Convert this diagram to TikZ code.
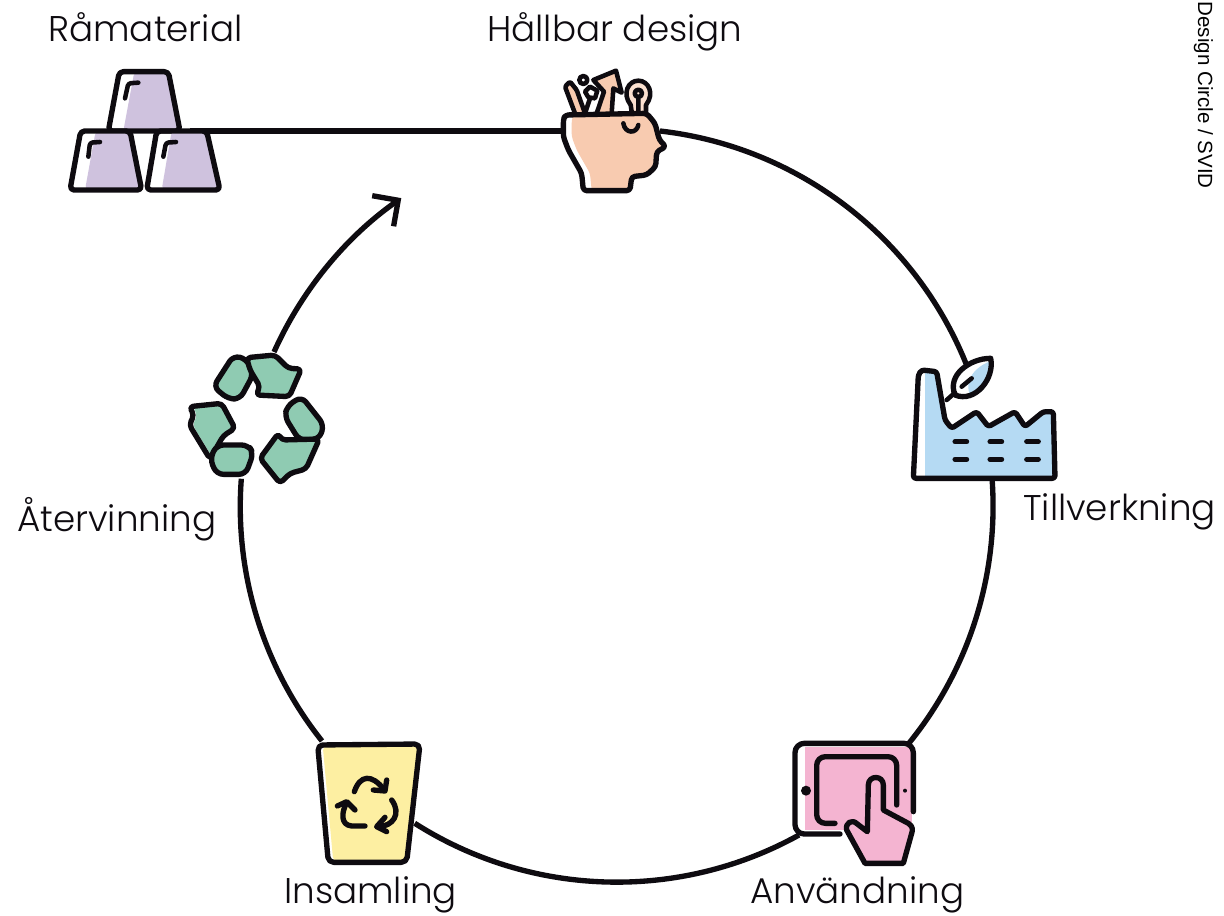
\documentclass[tikz,border=0pt]{standalone}
\usepackage{fontspec}
\setmainfont{Poppins}[UprightFont=* Light]
\newfontfamily\svidfont{Liberation Sans}
\usetikzlibrary{arrows.meta}
\definecolor{cupc}{HTML}{CFC2DE}
\definecolor{headc}{HTML}{F8CBB0}
\definecolor{factc}{HTML}{B5DAF3}
\definecolor{tabc}{HTML}{F4B4D1}
\definecolor{binc}{HTML}{FDEFA2}
\definecolor{recc}{HTML}{8FCBB2}
\definecolor{ink}{HTML}{0E0B10}
\newcommand{\shapefill}[3]{% path, colour, shift in zoomed px
  \begin{scope}\clip #1;\begin{scope}[xshift=#3*.25pt]\fill[#2] #1;\end{scope}\end{scope}
  \draw[icon] #1;}
\tikzset{
  ring/.style={draw=ink,line width=4pt},
  icon/.style={draw=ink,line width=4pt,line join=round,line cap=round},
  thin icon/.style={icon,line width=3.4pt},
  label/.style={font=\fontsize{26.8}{30}\selectfont,text=ink,inner sep=0pt},
  zoomed/.style={x=.25pt,y=-.25pt}
}
\begin{document}
\begin{tikzpicture}[x=.75pt,y=-.75pt]
\useasboundingbox (0,0) rectangle (1224,916);
\fill[white] (0,0) rectangle (1224,916);
% connector ends
\coordinate (raw) at (190,131);
\coordinate (headL) at (565,131);
\coordinate (headR) at (660,131);
\coordinate (factB) at (992,478);
\coordinate (tabB) at (799,835);
\coordinate (binT) at (322,741);
\coordinate (recT) at (274,352);
\draw[ring] (raw) -- (headL);
\draw[ring] (headR) arc[start angle=83.5,end angle=22,radius=282pt];
\draw[ring] (factB) arc[start angle=4.3,end angle=-39.4,radius=282pt];
\draw[ring] (tabB) arc[start angle=-61,end angle=-122.5,radius=282pt];
\draw[ring] (binT) arc[start angle=-141.5,end angle=-184.3,radius=282pt];
\draw[ring,-{Straight Barb[length=14pt,width=28pt]}] (recT) arc[start angle=155.8,end angle=125,radius=282pt];
% Cups
\begin{scope}[shift={(40,50)},zoomed]
\shapefill{[rounded corners=3pt] (238,65) -- (385,65) -- (420,243) -- (205,243) -- cycle}{cupc}{45}
\shapefill{[rounded corners=3pt] (122,243) -- (270,243) -- (305,420) -- (90,420) -- cycle}{cupc}{45}
\shapefill{[rounded corners=3pt] (350,243) -- (500,243) -- (540,420) -- (320,420) -- cycle}{cupc}{45}
\draw[thin icon,rounded corners=2pt] (255,145) -- (265,100) -- (295,98);
\draw[thin icon,rounded corners=2pt] (145,320) -- (150,278) -- (180,276);
\draw[thin icon,rounded corners=2pt] (370,320) -- (378,278) -- (408,276);
\end{scope}
% Head
\begin{scope}[shift={(540,60)},zoomed]
\draw[thin icon,fill=headc,rounded corners=1pt] (105,160) -- (75,80) -- (90,65) -- (110,90) -- (135,160);
\draw[thin icon] (130,60) circle[radius=12];
\draw[thin icon,fill=white] (150,80) -- (172,92) -- (165,115) -- (145,112) -- (135,95) -- cycle;
\draw[thin icon] (150,115) -- (135,160);
\draw[thin icon,fill=headc] (170,160) -- (192,95) -- (160,60) -- (228,32) -- (245,98) -- (220,85) -- (215,160);
\draw[thin icon,fill=headc!60] (275,155) -- (272,135) .. controls (245,100) and (265,62) .. (295,62) .. controls (325,62) and (345,100) .. (318,135) -- (318,155);
\draw[thin icon] (295,100) circle[radius=11] (295,112) -- (295,155);
\shapefill{[rounded corners=2.5pt] (75,165) -- (320,160) -- (345,190) -- (358,240) -- (378,260) -- (350,275) -- (347,320) -- (320,345) -- (275,350) -- (270,392) -- (130,392) -- (125,340) -- (85,270) -- (70,230) -- (70,180) -- cycle}{headc}{25}
\draw[thin icon] (250,190) .. controls (255,222) and (290,222) .. (295,195);
\end{scope}
% Factory
\begin{scope}[shift={(900,350)},zoomed]
\def\factshape{[rounded corners=2pt] (40,385) -- (465,385) -- (460,185) -- (430,185) -- (375,230) -- (345,185) -- (265,230) -- (230,185) -- (155,235) -- (135,210) -- (110,65) -- (65,60) -- (55,75) -- cycle}
\begin{scope}\clip \factshape;\fill[factc] (75,0) rectangle (480,400);\end{scope}
\draw[icon] \factshape;
\draw[thin icon] (140,150) -- (165,128);
\shapefill{(165,135) .. controls (140,75) and (210,25) .. (272,25) .. controls (285,85) and (225,160) .. (165,135) -- cycle}{factc}{45}
\draw[thin icon] (185,110) -- (215,85);
\foreach \yy in {275,328} \foreach \xx in {165,270,380} \draw[thin icon,line width=3.8pt] (\xx,\yy) -- ++(35,0);
\end{scope}
% Tablet
\begin{scope}[shift={(780,730)},zoomed]
\fill[tabc] (75,50) rectangle (395,300);
\draw[icon,rounded corners=7pt] (400,245) -- (400,40) -- (45,40) -- (45,312) -- (180,312);
\draw[icon,rounded corners=6.5pt] (350,225) -- (350,80) -- (110,80) -- (110,280) -- (165,280);
\fill[ink] (78,182) circle[radius=15] (375,182) circle[radius=6];
\draw[icon,fill=tabc,line join=round] (262,305) -- (265,165) .. controls (265,135) and (310,135) .. (310,165) -- (310,240) -- (385,280) .. controls (400,290) and (398,300) .. (395,310) -- (370,400) -- (255,400) -- (200,300) .. controls (195,280) and (215,265) .. (232,282) -- cycle;
\end{scope}
% Bin
\begin{scope}[shift={(305,730)},zoomed]
\shapefill{[rounded corners=4pt] (38,45) -- (345,42) -- (305,397) -- (70,397) -- cycle}{binc}{15}
\draw[icon] (148,185) .. controls (165,135) and (200,130) .. (238,180);
\draw[icon] (205,180) -- (240,183) -- (245,150);
\draw[icon] (260,210) .. controls (290,250) and (265,290) .. (218,290);
\draw[icon] (240,262) -- (215,290) -- (245,305);
\draw[icon] (180,288) -- (140,288) .. controls (105,285) and (110,245) .. (125,218);
\draw[icon] (97,228) -- (125,215) -- (150,240);
\end{scope}
% Recycling
\begin{scope}[shift={(180,345)},zoomed]
\def\pieceA{[rounded corners=5pt] (160,32) -- (200,42) -- (220,88) -- (180,162) -- (145,162) -- (100,125) -- cycle}
\def\pieceB{[rounded corners=3pt] (200,38) -- (285,30) -- (325,70) -- (364,72) -- (328,155) -- (228,150) -- (240,125) -- (210,75) -- cycle}
\def\pieceC{[rounded corners=5pt] (365,155) -- (432,240) -- (418,282) -- (358,286) -- (314,215) -- (322,182) -- cycle}
\def\pieceD{[rounded corners=3pt] (418,282) -- (378,372) -- (330,385) -- (300,415) -- (240,340) -- (295,265) -- (305,285) -- cycle}
\def\pieceE{[rounded corners=3pt] (28,185) -- (125,175) -- (165,250) -- (130,272) -- (90,342) -- (28,240) -- (42,210) -- cycle}
\def\pieceF{[rounded corners=5pt] (110,300) -- (205,300) -- (220,325) -- (197,388) -- (110,388) -- (90,342) -- cycle}
\shapefill{\pieceA}{recc}{5}
\shapefill{\pieceB}{recc}{5}
\shapefill{\pieceC}{recc}{-5}
\shapefill{\pieceD}{recc}{-5}
\shapefill{\pieceE}{recc}{10}
\shapefill{\pieceF}{recc}{0}
\end{scope}
% Labels
\node[label,anchor=base west] (lraw) at (48,42) {Råmaterial};
\node[label,anchor=base west] (ldes) at (487,42) {Hållbar design};
\node[label,anchor=base west] (ltil) at (1023,520) {Tillverkning};
\node[label,anchor=base west] (lanv) at (750,903) {Användning};
\node[label,anchor=base west] (lins) at (284,903) {Insamling};
\node[label,anchor=base west] (latr) at (17,531) {Återvinning};
\node[font=\svidfont\fontsize{15.4}{19}\selectfont,rotate=-90,anchor=base east,inner sep=0pt] (svid) at (1198,189) {Design Circle / SVID};
\end{tikzpicture}
\end{document}
